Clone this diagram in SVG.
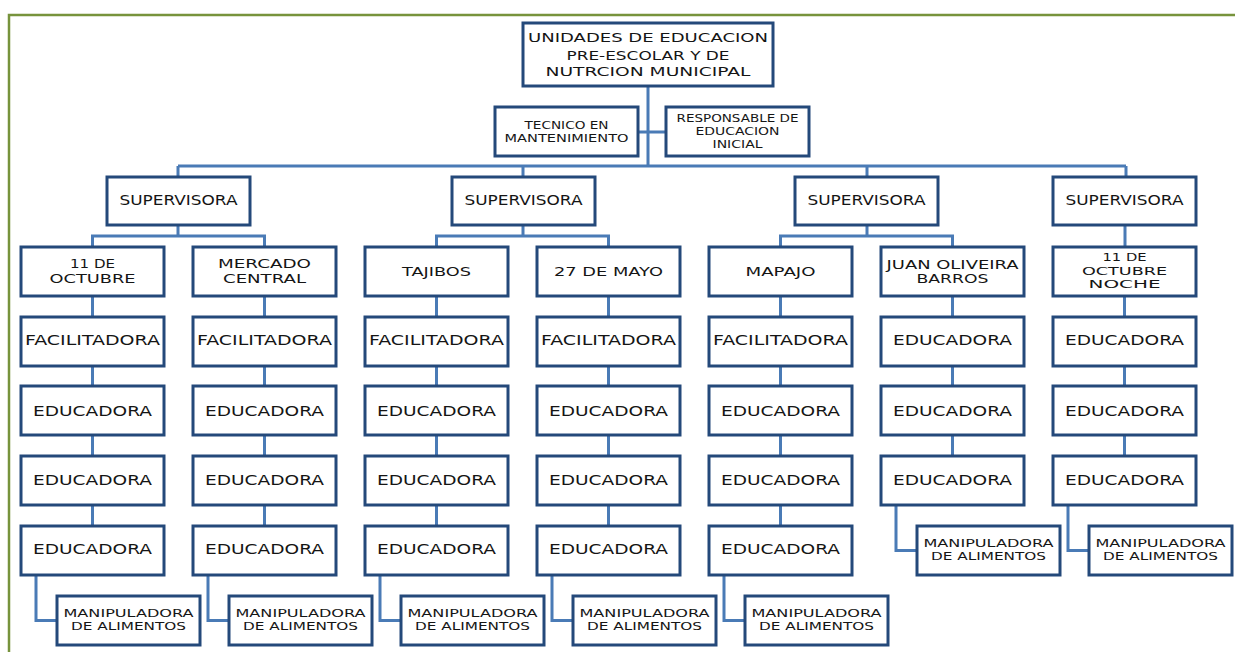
<svg xmlns="http://www.w3.org/2000/svg" width="1235" height="652" viewBox="0 0 1235 652">
<style>
.bx{fill:#fff;stroke:#24497a;stroke-width:3}
.cn{fill:none;stroke:#4a7bb6;stroke-width:3}
.t{font-family:"DejaVu Sans","Liberation Sans",sans-serif;fill:#151515;text-anchor:middle;font-size:13.5px}
.s{font-size:12px}
.n{font-size:11px}
.m{font-size:11px}
.a{font-size:10.5px}
.r{font-size:11px}
.h{font-size:13px}
</style>
<rect width="1235" height="652" fill="#fff"/>
<path d="M9,652 V15 H1235" fill="none" stroke="#77933c" stroke-width="2.5"/>
<g id="connectors">
<path class="cn" d="M648,86 V166 M638,132 H666 M178,166 H1126 M178,166 V177 M523,166 V177 M867,166 V177 M1126,166 V177"/>
<path class="cn" d="M178,225 V236 M92.5,247 V236 H264.5 V247 M523,225 V236 M436.5,247 V236 H608.5 V247 M867,225 V236 M780.5,247 V236 H952.5 V247 M1125,225 V247"/>
<path class="cn" d="M92.5,296 V317 M92.5,366 V386 M92.5,435 V456 M92.5,505 V526 M36,575 V620.5 H57"/>
<path class="cn" d="M264.5,296 V317 M264.5,366 V386 M264.5,435 V456 M264.5,505 V526 M208,575 V620.5 H229"/>
<path class="cn" d="M436.5,296 V317 M436.5,366 V386 M436.5,435 V456 M436.5,505 V526 M380,575 V620.5 H401"/>
<path class="cn" d="M608.5,296 V317 M608.5,366 V386 M608.5,435 V456 M608.5,505 V526 M552,575 V620.5 H573"/>
<path class="cn" d="M780.5,296 V317 M780.5,366 V386 M780.5,435 V456 M780.5,505 V526 M724,575 V620.5 H745"/>
<path class="cn" d="M952.5,296 V317 M952.5,366 V386 M952.5,435 V456 M896,505 V550.5 H917"/>
<path class="cn" d="M1124.5,296 V317 M1124.5,366 V386 M1124.5,435 V456 M1068,505 V550.5 H1089"/>
</g>
<g id="root"><rect class="bx" x="523" y="23" width="250" height="63"/>
<text class="t h" x="648" y="42" textLength="240" lengthAdjust="spacingAndGlyphs">UNIDADES DE EDUCACION</text>
<text class="t h" x="648" y="60" textLength="163" lengthAdjust="spacingAndGlyphs">PRE-ESCOLAR Y DE</text>
<text class="t h" x="648" y="76" textLength="205" lengthAdjust="spacingAndGlyphs">NUTRCION MUNICIPAL</text></g>
<g id="tecnico"><rect class="bx" x="495" y="107" width="143" height="49"/>
<text class="t a" x="566.5" y="129" textLength="84" lengthAdjust="spacingAndGlyphs">TECNICO EN</text>
<text class="t a" x="566.5" y="141.7" textLength="124" lengthAdjust="spacingAndGlyphs">MANTENIMIENTO</text></g>
<g id="responsable"><rect class="bx" x="666" y="107" width="143" height="49"/>
<text class="t r" x="737.5" y="121.7" textLength="122" lengthAdjust="spacingAndGlyphs">RESPONSABLE  DE</text>
<text class="t r" x="737.5" y="135" textLength="84" lengthAdjust="spacingAndGlyphs">EDUCACION</text>
<text class="t r" x="737.5" y="148.3" textLength="50" lengthAdjust="spacingAndGlyphs">INICIAL</text></g>
<g id="sup1"><rect class="bx" x="107" y="177" width="143" height="48"/><text class="t" x="178.5" y="205" textLength="118" lengthAdjust="spacingAndGlyphs">SUPERVISORA</text></g>
<g id="sup2"><rect class="bx" x="452" y="177" width="143" height="48"/><text class="t" x="523.5" y="205" textLength="118" lengthAdjust="spacingAndGlyphs">SUPERVISORA</text></g>
<g id="sup3"><rect class="bx" x="795" y="177" width="143" height="48"/><text class="t" x="866.5" y="205" textLength="118" lengthAdjust="spacingAndGlyphs">SUPERVISORA</text></g>
<g id="sup4"><rect class="bx" x="1053" y="177" width="143" height="48"/><text class="t" x="1124.5" y="205" textLength="118" lengthAdjust="spacingAndGlyphs">SUPERVISORA</text></g>

<g id="u1"><rect class="bx" x="21" y="247" width="143" height="49"/>
<text class="t s" x="92.5" y="268.3" textLength="45" lengthAdjust="spacingAndGlyphs">11 DE</text>
<text class="t s" x="92.5" y="282.7" textLength="86" lengthAdjust="spacingAndGlyphs">OCTUBRE</text></g>
<g id="u2"><rect class="bx" x="193" y="247" width="143" height="49"/>
<text class="t s" x="264.5" y="268.3" textLength="93" lengthAdjust="spacingAndGlyphs">MERCADO</text>
<text class="t s" x="264.5" y="282.7" textLength="83" lengthAdjust="spacingAndGlyphs">CENTRAL</text></g>
<g id="u3"><rect class="bx" x="365" y="247" width="143" height="49"/>
<text class="t s" x="436.5" y="275.5" textLength="69" lengthAdjust="spacingAndGlyphs">TAJIBOS</text></g>
<g id="u4"><rect class="bx" x="537" y="247" width="143" height="49"/>
<text class="t s" x="608.5" y="275.5" textLength="109" lengthAdjust="spacingAndGlyphs">27 DE MAYO</text></g>
<g id="u5"><rect class="bx" x="709" y="247" width="143" height="49"/>
<text class="t s" x="780.5" y="275.5" textLength="70" lengthAdjust="spacingAndGlyphs">MAPAJO</text></g>
<g id="u6"><rect class="bx" x="881" y="247" width="143" height="49"/>
<text class="t s" x="952.5" y="268.5" textLength="132" lengthAdjust="spacingAndGlyphs">JUAN OLIVEIRA</text>
<text class="t s" x="952.5" y="282.7" textLength="72" lengthAdjust="spacingAndGlyphs">BARROS</text></g>
<g id="u7"><rect class="bx" x="1053" y="247" width="143" height="49"/>
<text class="t n" x="1124.5" y="261" textLength="44" lengthAdjust="spacingAndGlyphs">11 DE</text>
<text class="t n" x="1124.5" y="274.5" textLength="85" lengthAdjust="spacingAndGlyphs">OCTUBRE</text>
<text class="t n" x="1124.5" y="288" textLength="72" lengthAdjust="spacingAndGlyphs">NOCHE</text></g>

<g id="c1r1"><rect class="bx" x="21" y="317" width="143" height="49"/><text class="t" x="92.5" y="345" textLength="135" lengthAdjust="spacingAndGlyphs">FACILITADORA</text></g>
<g id="c2r1"><rect class="bx" x="193" y="317" width="143" height="49"/><text class="t" x="264.5" y="345" textLength="135" lengthAdjust="spacingAndGlyphs">FACILITADORA</text></g>
<g id="c3r1"><rect class="bx" x="365" y="317" width="143" height="49"/><text class="t" x="436.5" y="345" textLength="135" lengthAdjust="spacingAndGlyphs">FACILITADORA</text></g>
<g id="c4r1"><rect class="bx" x="537" y="317" width="143" height="49"/><text class="t" x="608.5" y="345" textLength="135" lengthAdjust="spacingAndGlyphs">FACILITADORA</text></g>
<g id="c5r1"><rect class="bx" x="709" y="317" width="143" height="49"/><text class="t" x="780.5" y="345" textLength="135" lengthAdjust="spacingAndGlyphs">FACILITADORA</text></g>
<g id="c6r1"><rect class="bx" x="881" y="317" width="143" height="49"/><text class="t" x="952.5" y="345" textLength="119" lengthAdjust="spacingAndGlyphs">EDUCADORA</text></g>
<g id="c7r1"><rect class="bx" x="1053" y="317" width="143" height="49"/><text class="t" x="1124.5" y="345" textLength="119" lengthAdjust="spacingAndGlyphs">EDUCADORA</text></g>

<g id="c1r2"><rect class="bx" x="21" y="386" width="143" height="49"/><text class="t" x="92.5" y="415.5" textLength="119" lengthAdjust="spacingAndGlyphs">EDUCADORA</text></g>
<g id="c2r2"><rect class="bx" x="193" y="386" width="143" height="49"/><text class="t" x="264.5" y="415.5" textLength="119" lengthAdjust="spacingAndGlyphs">EDUCADORA</text></g>
<g id="c3r2"><rect class="bx" x="365" y="386" width="143" height="49"/><text class="t" x="436.5" y="415.5" textLength="119" lengthAdjust="spacingAndGlyphs">EDUCADORA</text></g>
<g id="c4r2"><rect class="bx" x="537" y="386" width="143" height="49"/><text class="t" x="608.5" y="415.5" textLength="119" lengthAdjust="spacingAndGlyphs">EDUCADORA</text></g>
<g id="c5r2"><rect class="bx" x="709" y="386" width="143" height="49"/><text class="t" x="780.5" y="415.5" textLength="119" lengthAdjust="spacingAndGlyphs">EDUCADORA</text></g>
<g id="c6r2"><rect class="bx" x="881" y="386" width="143" height="49"/><text class="t" x="952.5" y="415.5" textLength="119" lengthAdjust="spacingAndGlyphs">EDUCADORA</text></g>
<g id="c7r2"><rect class="bx" x="1053" y="386" width="143" height="49"/><text class="t" x="1124.5" y="415.5" textLength="119" lengthAdjust="spacingAndGlyphs">EDUCADORA</text></g>

<g id="c1r3"><rect class="bx" x="21" y="456" width="143" height="49"/><text class="t" x="92.5" y="484.5" textLength="119" lengthAdjust="spacingAndGlyphs">EDUCADORA</text></g>
<g id="c2r3"><rect class="bx" x="193" y="456" width="143" height="49"/><text class="t" x="264.5" y="484.5" textLength="119" lengthAdjust="spacingAndGlyphs">EDUCADORA</text></g>
<g id="c3r3"><rect class="bx" x="365" y="456" width="143" height="49"/><text class="t" x="436.5" y="484.5" textLength="119" lengthAdjust="spacingAndGlyphs">EDUCADORA</text></g>
<g id="c4r3"><rect class="bx" x="537" y="456" width="143" height="49"/><text class="t" x="608.5" y="484.5" textLength="119" lengthAdjust="spacingAndGlyphs">EDUCADORA</text></g>
<g id="c5r3"><rect class="bx" x="709" y="456" width="143" height="49"/><text class="t" x="780.5" y="484.5" textLength="119" lengthAdjust="spacingAndGlyphs">EDUCADORA</text></g>
<g id="c6r3"><rect class="bx" x="881" y="456" width="143" height="49"/><text class="t" x="952.5" y="484.5" textLength="119" lengthAdjust="spacingAndGlyphs">EDUCADORA</text></g>
<g id="c7r3"><rect class="bx" x="1053" y="456" width="143" height="49"/><text class="t" x="1124.5" y="484.5" textLength="119" lengthAdjust="spacingAndGlyphs">EDUCADORA</text></g>

<g id="c1r4"><rect class="bx" x="21" y="526" width="143" height="49"/><text class="t" x="92.5" y="554" textLength="119" lengthAdjust="spacingAndGlyphs">EDUCADORA</text></g>
<g id="c2r4"><rect class="bx" x="193" y="526" width="143" height="49"/><text class="t" x="264.5" y="554" textLength="119" lengthAdjust="spacingAndGlyphs">EDUCADORA</text></g>
<g id="c3r4"><rect class="bx" x="365" y="526" width="143" height="49"/><text class="t" x="436.5" y="554" textLength="119" lengthAdjust="spacingAndGlyphs">EDUCADORA</text></g>
<g id="c4r4"><rect class="bx" x="537" y="526" width="143" height="49"/><text class="t" x="608.5" y="554" textLength="119" lengthAdjust="spacingAndGlyphs">EDUCADORA</text></g>
<g id="c5r4"><rect class="bx" x="709" y="526" width="143" height="49"/><text class="t" x="780.5" y="554" textLength="119" lengthAdjust="spacingAndGlyphs">EDUCADORA</text></g>

<g id="m1"><rect class="bx" x="57" y="596" width="143" height="49"/><text class="t m" x="128.5" y="617" textLength="130" lengthAdjust="spacingAndGlyphs">MANIPULADORA</text><text class="t m" x="128.5" y="630" textLength="115" lengthAdjust="spacingAndGlyphs">DE ALIMENTOS</text></g>
<g id="m2"><rect class="bx" x="229" y="596" width="143" height="49"/><text class="t m" x="300.5" y="617" textLength="130" lengthAdjust="spacingAndGlyphs">MANIPULADORA</text><text class="t m" x="300.5" y="630" textLength="115" lengthAdjust="spacingAndGlyphs">DE ALIMENTOS</text></g>
<g id="m3"><rect class="bx" x="401" y="596" width="143" height="49"/><text class="t m" x="472.5" y="617" textLength="130" lengthAdjust="spacingAndGlyphs">MANIPULADORA</text><text class="t m" x="472.5" y="630" textLength="115" lengthAdjust="spacingAndGlyphs">DE ALIMENTOS</text></g>
<g id="m4"><rect class="bx" x="573" y="596" width="143" height="49"/><text class="t m" x="644.5" y="617" textLength="130" lengthAdjust="spacingAndGlyphs">MANIPULADORA</text><text class="t m" x="644.5" y="630" textLength="115" lengthAdjust="spacingAndGlyphs">DE ALIMENTOS</text></g>
<g id="m5"><rect class="bx" x="745" y="596" width="143" height="49"/><text class="t m" x="816.5" y="617" textLength="130" lengthAdjust="spacingAndGlyphs">MANIPULADORA</text><text class="t m" x="816.5" y="630" textLength="115" lengthAdjust="spacingAndGlyphs">DE ALIMENTOS</text></g>
<g id="m6"><rect class="bx" x="917" y="526" width="143" height="49"/><text class="t m" x="988.5" y="547" textLength="130" lengthAdjust="spacingAndGlyphs">MANIPULADORA</text><text class="t m" x="988.5" y="560" textLength="115" lengthAdjust="spacingAndGlyphs">DE ALIMENTOS</text></g>
<g id="m7"><rect class="bx" x="1089" y="526" width="143" height="49"/><text class="t m" x="1160.5" y="547" textLength="130" lengthAdjust="spacingAndGlyphs">MANIPULADORA</text><text class="t m" x="1160.5" y="560" textLength="115" lengthAdjust="spacingAndGlyphs">DE ALIMENTOS</text></g>
</svg>
